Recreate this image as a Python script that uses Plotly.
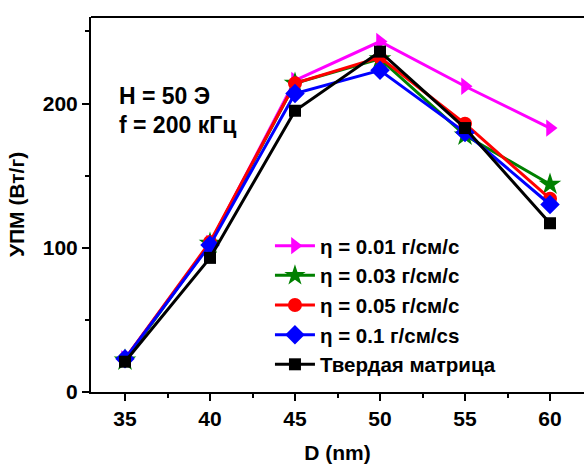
import plotly.graph_objects as go

D = [35, 40, 45, 50, 55, 60]
eta_001 = [23, 103, 216, 243, 212, 183]
eta_003 = [22, 103, 214, 231, 178, 144]
eta_005 = [23, 104, 214, 232, 186, 134]
eta_01 = [23, 102, 207, 223, 180, 130]
solid = [21, 93, 195, 236, 183, 117]

names = ["η = 0.01 г/см/с", "η = 0.03 г/см/с", "η = 0.05 г/см/с", "η = 0.1 г/см/cs", "Твердая матрица"]
series = [eta_001, eta_003, eta_005, eta_01, solid]
colors = ["#FF00FF", "#008000", "#FF0000", "#0000FF", "#000000"]
symbols = ["triangle-right", "star", "circle", "diamond", "square"]
sizes = [15, 17, 14, 15, 12]

FONT = "Liberation Sans, Arial, sans-serif"

fig = go.Figure()
for name, ys, c, s, sz in zip(names, series, colors, symbols, sizes):
    fig.add_trace(go.Scatter(
        x=D, y=ys, name=name, mode="lines+markers",
        line=dict(color=c, width=3),
        marker=dict(symbol=s, size=sz, color=c, line=dict(width=0)),
    ))

axis_common = dict(
    showgrid=False, zeroline=False, showline=True, linecolor="black", linewidth=2,
    ticks="outside", ticklen=7, tickwidth=2, tickcolor="black",
    tickfont=dict(family=FONT, size=21, color="black", weight="bold"),
)

fig.update_layout(
    width=584, height=464,
    margin=dict(l=91, r=0, t=17, b=72),
    paper_bgcolor="white", plot_bgcolor="white",
    font=dict(family=FONT, color="black"),
    xaxis=dict(
        range=[33, 62], tickvals=[35, 40, 45, 50, 55, 60], mirror=False,
        minor=dict(tickvals=[37.5, 42.5, 47.5, 52.5, 57.5], ticklen=4, tickwidth=2, tickcolor="black", ticks="outside"),
        title=dict(text="D (nm)", font=dict(family=FONT, size=21, color="black", weight="bold"), standoff=16),
        **axis_common,
    ),
    yaxis=dict(
        range=[0, 260], tickvals=[0, 100, 200],
        minor=dict(tickvals=[50, 150, 250], ticklen=4, tickwidth=2, tickcolor="black", ticks="outside"),
        title=dict(text="УПМ (Вт/г)", font=dict(family=FONT, size=21, color="black", weight="bold"), standoff=12),
        **axis_common,
    ),
    legend=dict(
        x=0.363, y=0.443, xanchor="left", yanchor="top",
        bgcolor="rgba(0,0,0,0)", borderwidth=0,
        font=dict(family=FONT, size=20.5, color="black", weight="bold"),
        itemwidth=40, tracegroupgap=0,
    ),
    showlegend=True,
)

# top border line
fig.add_shape(type="line", xref="paper", yref="paper", x0=0, x1=1, y0=1, y1=1,
              line=dict(color="black", width=2))

fig.add_annotation(xref="x", yref="y", x=34.55, y=205.5, text="H = 50 Э", showarrow=False,
                   xanchor="left", yanchor="middle",
                   font=dict(family=FONT, size=23, color="black", weight="bold"))
fig.add_annotation(xref="x", yref="y", x=34.55, y=185, text="f = 200 кГц", showarrow=False,
                   xanchor="left", yanchor="middle",
                   font=dict(family=FONT, size=23, color="black", weight="bold"))

fig.write_html("out.html")
